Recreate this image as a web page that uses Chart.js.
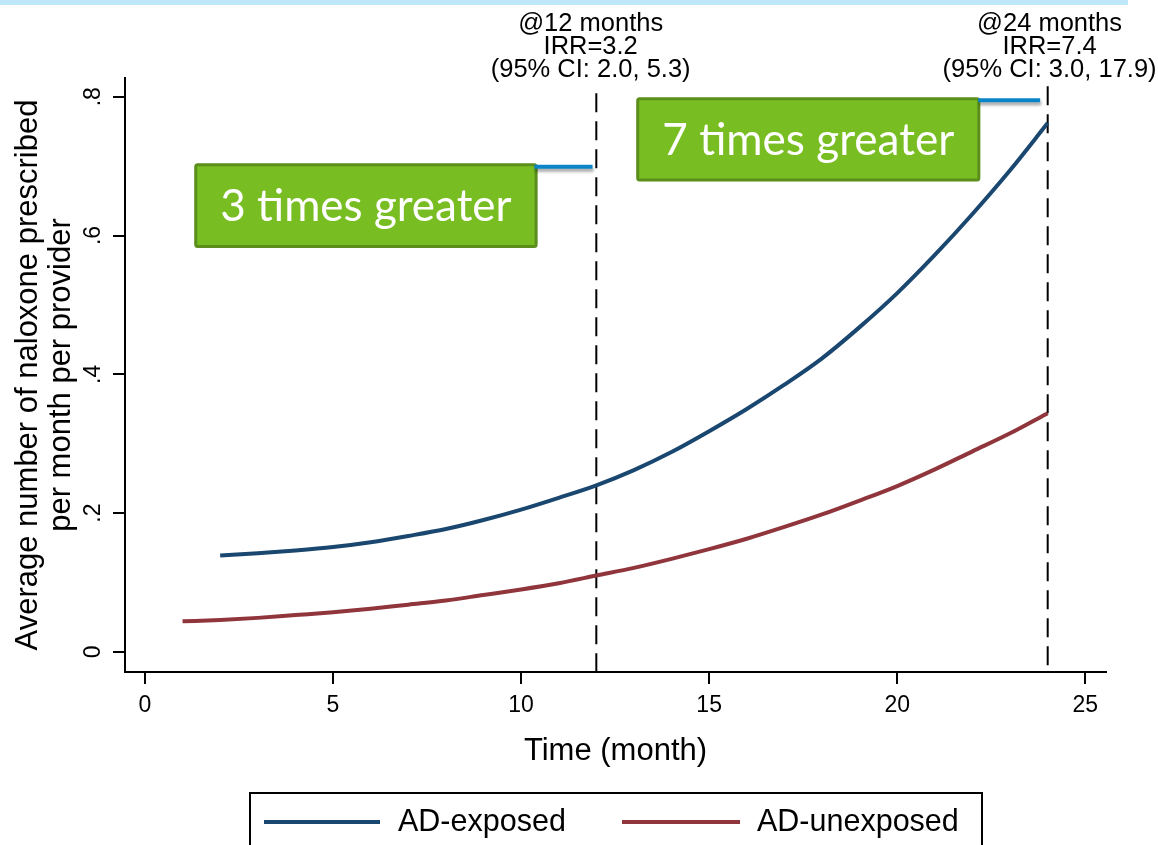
<!DOCTYPE html>
<html>
<head>
<meta charset="utf-8">
<title>Naloxone prescribing over time</title>
<script src="https://cdn.jsdelivr.net/npm/chart.js@4.4.1/dist/chart.umd.min.js"></script>
<style>
  html, body { margin: 0; padding: 0; background: #fff; }
  #wrap { position: relative; width: 1158px; height: 845px; overflow: hidden; }
  #topBar { position: absolute; left: 0; top: 0; width: 1128px; height: 5px; background: #bfe7fa; }
</style>
</head>
<body>
<div id="wrap">
  <canvas id="chart" width="1158" height="845"></canvas>
  <div id="topBar"></div>
</div>
<script>
// ---- data ----
const exposedMonths = [2, 3, 4, 5, 6, 7, 8, 9, 10, 11, 12, 13, 14, 15, 16, 17, 18, 19, 20, 21, 22, 23, 24];
const exposedValues = [0.139, 0.142, 0.146, 0.151, 0.158, 0.167, 0.177, 0.190, 0.205, 0.222, 0.240,
                       0.262, 0.288, 0.318, 0.350, 0.385, 0.423, 0.468, 0.517, 0.572, 0.631, 0.694, 0.762];
const unexposedMonths = [1, 2, 3, 4, 5, 6, 7, 8, 9, 10, 11, 12, 13, 14, 15, 16, 17, 18, 19, 20, 21, 22, 23, 24];
const unexposedValues = [0.044, 0.046, 0.049, 0.053, 0.057, 0.062, 0.068, 0.074, 0.082, 0.090, 0.099, 0.110,
                         0.121, 0.134, 0.148, 0.163, 0.180, 0.198, 0.218, 0.239, 0.263, 0.289, 0.315, 0.344];
const seriesLabels = ['AD-exposed', 'AD-unexposed'];

const xTicks = [0, 5, 10, 15, 20, 25];
const yTicks = [0, 0.2, 0.4, 0.6, 0.8];
const yTickLabels = ['0', '.2', '.4', '.6', '.8'];

// vertical reference lines (xline) at 12 and 24 months
const refMonths = [12, 24];
const refTops = [0.805, 0.815];

// IRR notes above the plot
const irrNotes = [
    { month: 11.85, lines: ['@12 months', 'IRR=3.2', '(95% CI: 2.0, 5.3)'] },
    { month: 24.05, lines: ['@24 months', 'IRR=7.4', '(95% CI: 3.0, 17.9)'] }
];

// green call-out boxes (in data units) and their blue leader lines
const callouts = [
    { text: '3 times greater', x0: 1.35, x1: 10.4, yTop: 0.702, yBottom: 0.584, lineX0: 10.35, lineX1: 11.9, lineY: 0.699 },
    { text: '7 times greater', x0: 13.1, x1: 22.17, yTop: 0.797, yBottom: 0.680, lineX0: 22.15, lineX1: 23.8, lineY: 0.795 }
];

// ---- helpers ----
const SANS = "'Liberation Sans', Arial, sans-serif";
const navy = '#1a476f';
const maroon = '#90353b';

function toPoints(xs, ys) {
    return xs.map((x, i) => ({ x: x, y: ys[i] }));
}

const Y_MIN = -0.029, Y_MAX = 0.827;
const X_MIN = -0.53, X_MAX = 25.55;

// Draw everything Chart.js doesn't do natively: rotated y labels, notes, call-outs, legend
const overlayPlugin = {
    id: 'overlay',
    afterDraw(chart) {
        const ctx = chart.ctx;
        const area = chart.chartArea;
        const xs = chart.scales.x;
        const ys = chart.scales.y;
        ctx.save();

        // y tick labels, Stata style (rotated)
        ctx.fillStyle = '#000';
        ctx.font = '23px ' + SANS;
        ctx.textAlign = 'center';
        ctx.textBaseline = 'alphabetic';
        yTicks.forEach((v, i) => {
            ctx.save();
            ctx.translate(area.left - 25, ys.getPixelForValue(v));
            ctx.rotate(-Math.PI / 2);
            ctx.fillText(yTickLabels[i], 0, 0);
            ctx.restore();
        });

        // IRR notes
        ctx.font = '25.5px ' + SANS;
        const noteOffsets = [47, 24, 1];
        irrNotes.forEach(note => {
            const px = xs.getPixelForValue(note.month);
            note.lines.forEach((line, i) => {
                ctx.fillText(line, px, area.top - noteOffsets[i]);
            });
        });

        // call-out boxes
        callouts.forEach(c => {
            const l = xs.getPixelForValue(c.x0), r = xs.getPixelForValue(c.x1);
            const t = ys.getPixelForValue(c.yTop), b = ys.getPixelForValue(c.yBottom);
            ctx.fillStyle = '#78bd22';
            ctx.strokeStyle = '#5b8e1a';
            ctx.lineWidth = 3;
            ctx.beginPath();
            ctx.roundRect(l, t, r - l, b - t, 2);
            ctx.fill();
            ctx.stroke();

            // fit Calibri-ish text to ~86% of the box width
            let size = 46;
            ctx.font = size + "px Lato, 'Open Sans', sans-serif";
            const w = ctx.measureText(c.text).width;
            const target = (r - l) * 0.856;
            size = size * target / w;
            ctx.font = size.toFixed(1) + "px Lato, 'Open Sans', sans-serif";
            ctx.fillStyle = '#fff';
            ctx.textAlign = 'center';
            ctx.textBaseline = 'alphabetic';
            ctx.fillText(c.text, (l + r) / 2, (t + b) / 2 + size * 0.35);

            // blue leader line with a soft shadow
            ctx.save();
            ctx.shadowColor = 'rgba(0,0,0,0.35)';
            ctx.shadowOffsetX = 1;
            ctx.shadowOffsetY = 3;
            ctx.shadowBlur = 3;
            ctx.strokeStyle = '#0a84c6';
            ctx.lineWidth = 4;
            ctx.beginPath();
            ctx.moveTo(xs.getPixelForValue(c.lineX0), ys.getPixelForValue(c.lineY));
            ctx.lineTo(xs.getPixelForValue(c.lineX1), ys.getPixelForValue(c.lineY));
            ctx.stroke();
            ctx.restore();
        });

        // legend box at the bottom
        const items = chart.data.datasets.filter(d => !d.label.startsWith('_'));
        ctx.strokeStyle = '#000';
        ctx.lineWidth = 2;
        ctx.strokeRect(250, 793, 732, 90);
        const legendSlots = [{ x0: 264, x1: 380, tx: 398 }, { x0: 622, x1: 740, tx: 757 }];
        ctx.font = '30.5px ' + SANS;
        ctx.textAlign = 'left';
        ctx.textBaseline = 'middle';
        items.forEach((d, i) => {
            const s = legendSlots[i];
            ctx.strokeStyle = d.borderColor;
            ctx.lineWidth = 4;
            ctx.beginPath();
            ctx.moveTo(s.x0, 822);
            ctx.lineTo(s.x1, 822);
            ctx.stroke();
            ctx.fillStyle = '#000';
            ctx.fillText(d.label, s.tx, 823);
        });

        ctx.restore();
    }
};

const refDatasets = refMonths.map((m, i) => ({
    label: '_ref' + m,
    data: [{ x: m, y: refTops[i] }, { x: m, y: Y_MIN }],
    borderColor: '#000',
    borderWidth: 2,
    borderDash: [19, 9],
    pointRadius: 0,
    order: 3
}));

new Chart(document.getElementById('chart'), {
    type: 'line',
    data: {
        datasets: [
            {
                label: seriesLabels[0],
                data: toPoints(exposedMonths, exposedValues),
                borderColor: navy,
                borderWidth: 4,
                pointRadius: 0,
                cubicInterpolationMode: 'monotone',
                order: 1
            },
            {
                label: seriesLabels[1],
                data: toPoints(unexposedMonths, unexposedValues),
                borderColor: maroon,
                borderWidth: 4,
                pointRadius: 0,
                cubicInterpolationMode: 'monotone',
                order: 2
            },
            ...refDatasets
        ]
    },
    options: {
        responsive: false,
        animation: false,
        devicePixelRatio: 1,
        layout: { padding: { left: 0, top: 78, right: 52, bottom: 75 } },
        plugins: {
            legend: { display: false },
            tooltip: { enabled: false }
        },
        scales: {
            x: {
                type: 'linear',
                min: X_MIN,
                max: X_MAX,
                afterBuildTicks: (scale) => { scale.ticks = xTicks.map(v => ({ value: v })); },
                afterFit: (scale) => { scale.height = 98; },
                border: { display: true, color: '#000', width: 2 },
                grid: { drawOnChartArea: false, drawTicks: true, tickLength: 12, color: '#000', lineWidth: 2 },
                ticks: {
                    color: '#000',
                    font: { family: SANS, size: 23 },
                    padding: 8,
                    maxRotation: 0,
                    callback: (v) => String(v)
                },
                title: {
                    display: true,
                    text: 'Time (month)',
                    color: '#000',
                    font: { family: SANS, size: 31 },
                    padding: { top: 0, bottom: 0 }
                }
            },
            y: {
                type: 'linear',
                min: Y_MIN,
                max: Y_MAX,
                afterBuildTicks: (scale) => { scale.ticks = yTicks.map(v => ({ value: v })); },
                afterFit: (scale) => { scale.width = 125; },
                border: { display: true, color: '#000', width: 2 },
                grid: { drawOnChartArea: false, drawTicks: true, tickLength: 12, color: '#000', lineWidth: 2 },
                ticks: { display: false },
                title: {
                    display: true,
                    text: ['Average number of naloxone prescribed', 'per month per provider'],
                    color: '#000',
                    font: { family: SANS, size: 31, lineHeight: 1.07 },
                    padding: { top: 12, bottom: 0 }
                }
            }
        }
    },
    plugins: [overlayPlugin]
});
</script>
</body>
</html>
